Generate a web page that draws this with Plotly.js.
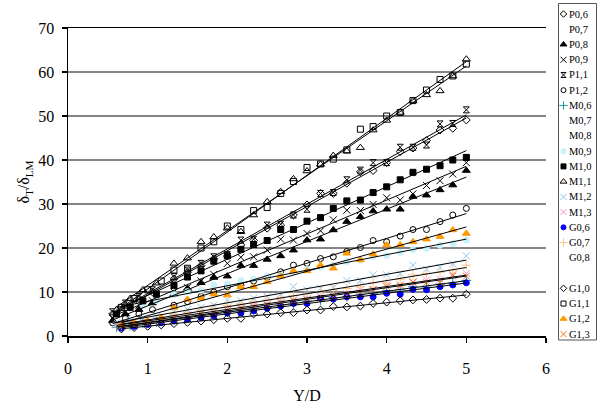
<!DOCTYPE html>
<html><head><meta charset="utf-8">
<script src="https://cdn.plot.ly/plotly-3.0.1.min.js"></script>
<style>html,body{margin:0;padding:0;background:#fff}#chart{width:598px;height:410px}</style>
</head><body><div id="chart"></div>
<script>
// ---- data ----
const LEGEND_ORDER = ['P0,6','P0,7','P0,8','P0,9','P1,1','P1,2','M0,6','M0,7','M0,8','M0,9','M1,0','M1,1','M1,2','M1,3','G0,6','G0,7','G0,8','','G1,0','G1,1','G1,2','G1,3'];

const X_UP = [1.33,1.5,1.67,1.83,2.0,2.17,2.33,2.5,2.67,2.83,3.0,3.17,3.33,3.5,3.67,3.83,4.0,4.17,4.33,4.5,4.67,4.83,5.0];
const X_P = [0.56,0.72,0.89,1.06].concat(X_UP);
const X_M = [0.61,0.78,0.94,1.11].concat(X_UP);
const X_G = [0.67,0.83,1.0,1.17].concat(X_UP);

const Y_P06 = [5.0,7.0,8.5,10.0, 13.0,14.5,16.0,17.5,18.2,20.7,21.7,24.5,25.2,27.5,29.8,32.4,32.4,34.7,37.3,37.6,39.4,41.9,42.7,44.4,46.8,47.2,49.1];
const Y_P08 = [3.5,5.0,6.0,7.5, 9.5,10.8,12.1,13.3,13.6,16.0,16.0,17.4,18.2,19.5,21.8,22.0,24.1,26.0,27.1,28.4,28.8,28.8,31.7,32.0,33.2,34.3,37.6];
const Y_P09 = [4.0,5.5,7.0,8.0, 10.0,11.0,12.5,14.0,16.5,17.9,18.0,19.5,22.0,21.8,23.3,23.9,26.4,28.6,28.5,29.9,31.4,30.9,32.3,34.2,35.3,36.8,39.4];
const Y_P11 = [5.5,7.5,9.0,10.5, 13.5,15.0,16.5,18.0,18.5,21.8,22.0,25.2,25.4,27.5,28.8,32.4,32.6,35.5,37.7,39.4,39.4,42.9,42.9,43.4,48.2,48.3,51.4];
const Y_P12 = [3.0,4.0,5.0,6.0, 7.0,7.8,9.0,10.0,11.2,11.5,12.5,13.3,14.6,16.1,16.5,17.6,18.0,19.2,20.1,21.7,21.4,22.7,24.2,24.2,26.0,27.5,29.0];
const Y_M06 = [2.0,2.4,2.9,3.2, 3.9,4.1,4.7,5.0,5.5,5.7,6.3,6.5,7.1,7.3,7.9,8.1,8.7,8.9,9.5,9.7,10.3,10.5,11.2,11.1,11.8,12.0,12.6];
const Y_M09 = [5.5,6.3,7.0,8.0, 9.4,10.1,10.4,11.6,11.8,12.6,12.9,13.6,13.9,14.6,15.1,15.7,16.1,16.9,17.2,18.1,18.3,19.0,19.6,19.9,20.6,21.0,21.8];
const Y_M10 = [5.0,6.5,8.0,9.5, 11.5,13.4,14.8,17.0,18.2,19.7,20.8,21.7,24.2,24.2,26.1,26.9,29.0,30.7,30.9,32.6,33.9,35.5,37.2,37.9,38.7,40.0,40.6];
const Y_M11 = [6.0,8.5,10.5,12.0, 16.5,17.7,21.4,22.5,24.5,23.7,27.5,30.5,32.8,35.7,37.5,39.0,41.0,42.0,42.8,46.8,49.0,50.8,53.5,54.8,55.7,59.1,62.9];
const Y_M12 = [3.0,3.5,4.0,4.5, 5.5,6.0,6.5,7.0,8.2,8.0,8.6,9.0,9.5,11.2,10.5,10.8,11.0,12.6,12.6,13.9,13.9,14.2,16.1,15.2,15.6,16.4,18.2];
const Y_M13 = [2.5,3.0,3.2,3.6, 4.3,4.8,5.2,5.6,6.2,6.5,7.0,7.3,7.8,8.2,8.5,9.0,9.2,9.6,10.5,10.5,11.6,11.2,12.1,12.7,12.9,13.6,14.2];
const Y_G06 = [1.8,2.2,2.6,3.0, 3.4,3.8,4.2,4.6,5.2,5.2,5.7,6.3,6.8,7.4,7.4,8.6,8.4,8.9,8.9,8.9,9.7,9.5,10.6,10.5,11.2,11.6,12.1];
const Y_G07 = [2.5,3.0,3.5,4.0, 4.8,5.2,5.8,6.3,7.0,7.3,7.8,8.2,8.8,9.2,9.6,10.0,10.5,10.8,11.2,12.1,12.0,12.9,13.9,14.2,14.5,15.0,16.1];
const Y_G10 = [1.6,1.9,2.2,2.5, 2.8,3.1,3.4,3.7,4.0,4.0,5.0,5.0,5.3,5.3,5.9,5.9,6.7,6.6,6.8,7.4,7.7,8.0,8.2,8.3,8.6,8.6,9.5];
const Y_G11 = [6.5,8.5,10.5,12.5, 15.0,15.4,20.0,21.4,25.0,24.2,28.5,29.2,32.4,35.1,38.3,39.1,40.2,42.3,47.0,47.6,50.0,50.8,53.5,55.9,58.3,59.1,61.8];
const Y_G12 = [2.5,3.0,3.5,4.2, 6.5,8.3,8.6,9.5,9.3,11.2,11.2,12.3,13.6,14.8,14.8,16.1,15.4,18.8,17.3,18.6,20.7,20.7,21.4,22.0,22.6,24.1,23.3];
const Y_G13 = [2.2,2.6,3.0,3.4, 4.0,4.5,5.0,5.3,5.8,6.2,6.6,7.0,7.5,8.0,8.2,8.6,9.0,9.2,9.8,10.6,11.2,11.6,12.3,12.1,12.1,13.9,13.6];

const SERIES = [
  {name:'P0,6', x:X_P, y:Y_P06},
  {name:'P0,7', x:[], y:[]},
  {name:'P0,8', x:X_P, y:Y_P08},
  {name:'P0,9', x:X_P, y:Y_P09},
  {name:'P1,1', x:X_P, y:Y_P11},
  {name:'P1,2', x:X_P, y:Y_P12},
  {name:'M0,6', x:X_M, y:Y_M06},
  {name:'M0,7', x:[], y:[]},
  {name:'M0,8', x:[], y:[]},
  {name:'M0,9', x:X_M, y:Y_M09},
  {name:'M1,0', x:X_M, y:Y_M10},
  {name:'M1,1', x:X_M, y:Y_M11},
  {name:'M1,2', x:X_M, y:Y_M12},
  {name:'M1,3', x:X_M, y:Y_M13},
  {name:'G0,6', x:X_G, y:Y_G06},
  {name:'G0,7', x:X_G, y:Y_G07},
  {name:'G0,8', x:[], y:[]},
  {name:'G1,0', x:X_G, y:Y_G10},
  {name:'G1,1', x:X_G, y:Y_G11},
  {name:'G1,2', x:X_G, y:Y_G12},
  {name:'G1,3', x:X_G, y:Y_G13}
];

// ---- styles ----
const STYLE = {
  'P0,6':{symbol:'diamond-open', color:'#000000', size:6},
  'P0,8':{symbol:'triangle-up', color:'#000000', size:7},
  'P0,9':{symbol:'x-thin', color:'#000000', size:7},
  'P1,1':{symbol:'hourglass-open', color:'#000000', size:6},
  'P1,2':{symbol:'circle-open', color:'#000000', size:6},
  'M0,6':{symbol:'cross-thin', color:'#1a9e9e', size:7},
  'M0,9':{symbol:'circle', color:'#c9f1fb', size:6},
  'M1,0':{symbol:'square', color:'#000000', size:6},
  'M1,1':{symbol:'triangle-up-open', color:'#000000', size:7},
  'M1,2':{symbol:'x-thin', color:'#8cc6f2', size:7},
  'M1,3':{symbol:'x-thin', color:'#f38fc4', size:7},
  'G0,6':{symbol:'circle', color:'#0000ff', size:6},
  'G0,7':{symbol:'cross-thin', color:'#f9c48a', size:7},
  'G1,0':{symbol:'diamond-open', color:'#000000', size:6},
  'G1,1':{symbol:'square-open', color:'#000000', size:6},
  'G1,2':{symbol:'triangle-up', color:'#ff9900', size:7},
  'G1,3':{symbol:'x-thin', color:'#f0701e', size:7}
};
function markerOf(name){
  const s = STYLE[name];
  if(!s) return {opacity:0, size:1};
  return {symbol:s.symbol, size:s.size, color:s.color, line:{color:s.color, width:1}};
}

const FONT = '"Liberation Serif", "Times New Roman", serif';
const traces = [];
SERIES.forEach(s => {
  if(!STYLE[s.name]) return;
  traces.push({type:'scatter', mode:'markers', x:s.x, y:s.y, name:s.name, marker:markerOf(s.name), cliponaxis:false, showlegend:false, hoverinfo:'x+y+name'});
});
// linear trendlines (least squares from each series' data)
SERIES.forEach(s => {
  if(!s.x.length) return;
  const n = s.x.length;
  let sx=0, sy=0, sxx=0, sxy=0;
  for(let i=0;i<n;i++){ sx+=s.x[i]; sy+=s.y[i]; sxx+=s.x[i]*s.x[i]; sxy+=s.x[i]*s.y[i]; }
  const b = (n*sxy - sx*sy)/(n*sxx - sx*sx);
  const a = (sy - b*sx)/n;
  const x0 = Math.min(...s.x), x1 = Math.max(...s.x);
  traces.push({type:'scatter', mode:'lines', x:[x0,x1], y:[a+b*x0, a+b*x1], line:{color:'#000', width:1}, showlegend:false, hoverinfo:'skip'});
});

// ---- manual legend (fixed row pitch) ----
const LEG_X_MARK = 563.5, LEG_X_TEXT = 566.5, LEG_Y0 = 14, LEG_DY = 15.24;
const annotations = [];
LEGEND_ORDER.forEach((name, i) => {
  if(!name) return;
  const yy = LEG_Y0 + i*LEG_DY;
  if(STYLE[name]){
    const m = markerOf(name);
    m.size = Math.max(5, m.size-1);
    traces.push({type:'scatter', mode:'markers', x:[LEG_X_MARK], y:[yy], xaxis:'x2', yaxis:'y2', marker:m, showlegend:false, hoverinfo:'skip', cliponaxis:false});
  }
  annotations.push({xref:'x2', yref:'y2', x:LEG_X_TEXT, y:yy, text:name, showarrow:false, xanchor:'left', yanchor:'middle', font:{family:FONT, size:10.5, color:'#000'}});
});

const layout = {
  width:598, height:410,
  margin:{l:0, r:0, t:0, b:0},
  paper_bgcolor:'#ffffff', plot_bgcolor:'#ffffff',
  showlegend:false,
  font:{family:FONT, color:'#000'},
  xaxis:{domain:[68/598, 546/598], range:[0,6], dtick:1, tick0:0, ticks:'outside', ticklen:5, tickwidth:1.5, tickcolor:'#000',
    showline:true, linecolor:'#000', linewidth:1.5, mirror:true, showgrid:false, zeroline:false,
    tickfont:{family:FONT, size:16}, ticklabelstandoff:12, anchor:'y',
    title:{text:'Y/D', font:{family:FONT, size:16}, standoff:14}},
  yaxis:{domain:[74/410, 382/410], range:[0,70], dtick:10, tick0:0, ticks:'outside', ticklen:5, tickwidth:1.5, tickcolor:'#000',
    showline:true, linecolor:'#000', linewidth:1.5, showgrid:true, gridcolor:'#858585', gridwidth:1.5, zeroline:false,
    tickfont:{family:FONT, size:16}, ticklabelstandoff:4, anchor:'x',
    title:{text:'δ<sub>T</sub>/δ<sub>LM</sub>', font:{family:FONT, size:16}, standoff:4}},
  xaxis2:{domain:[558/598, 597/598], range:[558,597], visible:false, anchor:'y2', fixedrange:true},
  yaxis2:{domain:[0,1], range:[410,0], visible:false, anchor:'x2', fixedrange:true},
  shapes:[{type:'rect', xref:'paper', yref:'paper', x0:558.5/598, x1:596.5/598, y0:1-340/410, y1:1-3.5/410, line:{color:'#555', width:1}}],
  annotations:annotations
};

Plotly.newPlot('chart', traces, layout, {staticPlot:true, displayModeBar:false});
</script></body></html>
